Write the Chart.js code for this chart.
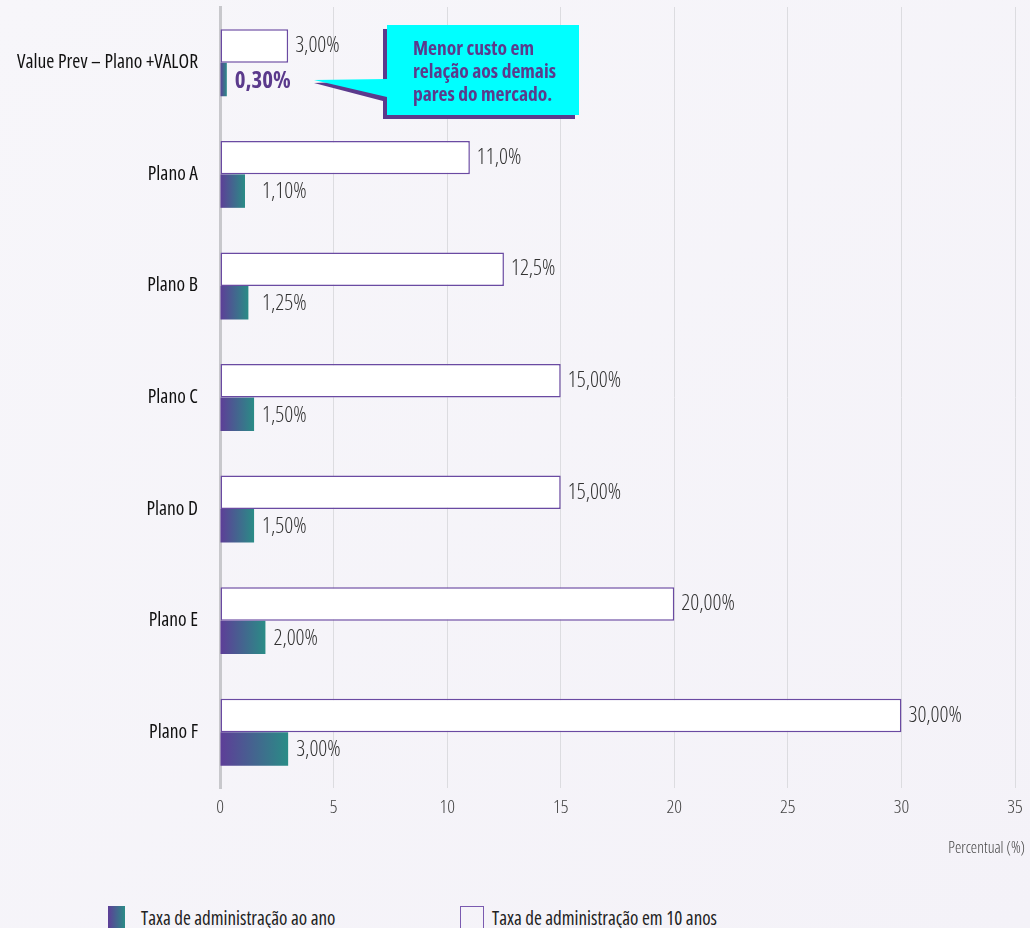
<!DOCTYPE html>
<html>
<head>
<meta charset="utf-8">
<script src="https://cdn.jsdelivr.net/npm/chart.js@4.4.1/dist/chart.umd.min.js"></script>
<style>
  html, body { margin: 0; padding: 0; }
  body { width: 1030px; height: 928px; overflow: hidden; background: linear-gradient(135deg, #f7f6fa 0%, #f4f2f8 100%); font-family: "Open Sans", sans-serif; font-stretch: condensed; position: relative; }
  #wrap { position: absolute; left: 0; top: 0; width: 1030px; height: 870px; }
  .legend { position: absolute; top: 905px; font-size: 19px; color: #222; display: flex; align-items: center; }
  .legend span.box { display: inline-block; width: 17px; height: 24px; margin-right: 16px; box-sizing: border-box; }
</style>
</head>
<body>
<div id="wrap"><canvas id="chart"></canvas></div>
<div class="legend" style="left:108px"><span class="box" style="background:linear-gradient(90deg,#5e3d98,#2a8c86)"></span>Taxa de administração ao ano</div>
<div class="legend" style="left:460px"><span class="box" style="border:1.5px solid #7a5ab0;width:24px;margin-right:8px"></span>Taxa de administração em 10 anos</div>
<script>
const planos = ['Value Prev – Plano +VALOR', 'Plano A', 'Plano B', 'Plano C', 'Plano D', 'Plano E', 'Plano F'];
const taxaAno = [0.3, 1.1, 1.25, 1.5, 1.5, 2.0, 3.0];
const taxa10Anos = [3, 11, 12.5, 15, 15, 20, 30];
const rotulosAno = ['0,30%', '1,10%', '1,25%', '1,50%', '1,50%', '2,00%', '3,00%'];
const rotulos10Anos = ['3,00%', '11,0%', '12,5%', '15,00%', '15,00%', '20,00%', '30,00%'];
const xTicks = [0, 5, 10, 15, 20, 25, 30, 35];

const FONT = '"Open Sans", sans-serif';
const ROXO = '#5b3a8c';

function gradiente(ctx) {
  const chart = ctx.chart;
  const xs = chart.scales.x;
  if (!chart.chartArea || !xs) return '#4a6a92';
  const x0 = xs.getPixelForValue(0);
  const x1 = xs.getPixelForValue(ctx.raw);
  if (!isFinite(x0) || !isFinite(x1) || x1 <= x0) return '#4a6a92';
  const g = chart.ctx.createLinearGradient(x0, 0, x1, 0);
  g.addColorStop(0, '#5e3d98');
  g.addColorStop(1, '#2a8c86');
  return g;
}

const rotulos = {
  id: 'rotulos',
  afterDatasetsDraw(chart) {
    const c = chart.ctx;
    const xs = chart.scales.x;
    c.save();
    c.textBaseline = 'middle';
    c.textAlign = 'left';
    chart.getDatasetMeta(0).data.forEach((el, i) => {
      c.font = 'condensed 300 22px ' + FONT;
      c.fillStyle = '#333';
      c.fillText(rotulos10Anos[i], el.x + 7, el.y);
    });
    chart.getDatasetMeta(1).data.forEach((el, i) => {
      if (i === 0) {
        c.font = 'condensed bold 23px ' + FONT;
        c.fillStyle = ROXO;
        c.fillText(rotulosAno[i], el.x + 8, el.y + 2);
      } else {
        c.font = 'condensed 300 22px ' + FONT;
        c.fillStyle = '#333';
        c.fillText(rotulosAno[i], Math.max(el.x + 8, xs.getPixelForValue(1.85)), el.y + 1);
      }
    });
    c.restore();
  },
  afterDraw(chart) {
    const c = chart.ctx;
    const bx = 387, by = 25, bw = 192, bh = 90;
    const tipX = 314, tipY = 82;
    c.save();
    // sombra
    c.fillStyle = ROXO;
    c.beginPath();
    c.moveTo(tipX, tipY + 1);
    c.lineTo(bx - 4, by + 76);
    c.lineTo(bx - 4, by + bh + 4);
    c.lineTo(bx + bw - 4, by + bh + 4);
    c.lineTo(bx + bw - 4, by + 4);
    c.lineTo(bx - 4, by + 4);
    c.lineTo(bx - 4, by + 55);
    c.closePath();
    c.fill();
    // balão
    c.fillStyle = '#00ffff';
    c.beginPath();
    c.moveTo(tipX, tipY - 2);
    c.lineTo(bx, by + 54);
    c.lineTo(bx, by);
    c.lineTo(bx + bw, by);
    c.lineTo(bx + bw, by + bh);
    c.lineTo(bx, by + bh);
    c.lineTo(bx, by + 72);
    c.closePath();
    c.fill();
    c.fillStyle = ROXO;
    c.font = 'condensed bold 19.5px ' + FONT;
    c.textBaseline = 'middle';
    c.textAlign = 'left';
    ['Menor custo em', 'relação aos demais', 'pares do mercado.'].forEach((t, i) => {
      c.fillText(t, 413, 49 + i * 23);
    });
    // título do eixo
    c.font = 'condensed 300 16px ' + FONT;
    c.fillStyle = '#444';
    c.textAlign = 'right';
    c.fillText('Percentual (%)', chart.width - 5, 848);
    c.restore();
  }
};

new Chart(document.getElementById('chart'), {
  type: 'bar',
  data: {
    labels: planos,
    datasets: [{
      label: 'Taxa de administração em 10 anos',
      data: taxa10Anos,
      backgroundColor: '#ffffff',
      borderColor: '#6a4aa2',
      borderWidth: 1.5,
      borderSkipped: false
    }, {
      label: 'Taxa de administração ao ano',
      data: taxaAno,
      backgroundColor: gradiente,
      borderWidth: 0
    }]
  },
  options: {
    indexAxis: 'y',
    responsive: true,
    maintainAspectRatio: false,
    animation: false,
    datasets: { bar: { categoryPercentage: 0.6, barPercentage: 1.0 } },
    layout: { padding: { top: 7, right: 15, left: 0, bottom: 0 } },
    plugins: { legend: { display: false }, tooltip: { enabled: false } },
    scales: {
      x: {
        min: 0,
        max: 35,
        afterBuildTicks: s => { s.ticks = xTicks.map(v => ({ value: v })); },
        grid: { color: '#dcdce0', lineWidth: 1, drawTicks: false },
        border: { display: false },
        ticks: { padding: 8, color: '#444', font: { family: FONT, size: 19, weight: 'condensed 300' } },
        afterFit: s => { s.height = 82; s.paddingLeft = 0; s.paddingRight = 0; }
      },
      y: {
        grid: { display: false },
        border: { display: true, color: '#c8c8cc', width: 3 },
        ticks: { padding: 14, color: '#111', font: { family: FONT, size: 19.5, weight: 'condensed 400' } },
        afterFit: s => { s.width = 220; s.paddingTop = 0; s.paddingBottom = 0; }
      }
    }
  },
  plugins: [rotulos]
});
</script>
</body>
</html>
